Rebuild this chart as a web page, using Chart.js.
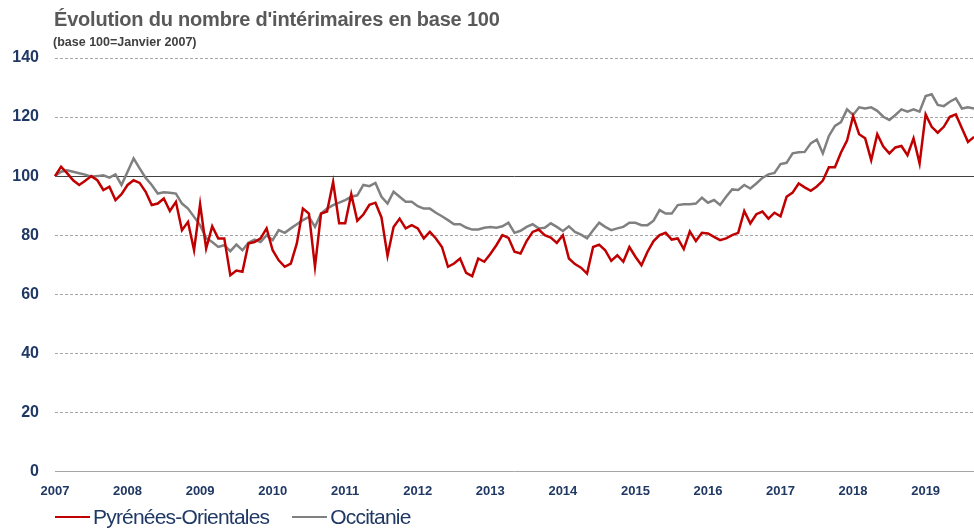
<!DOCTYPE html>
<html>
<head>
<meta charset="utf-8">
<script src="https://cdn.jsdelivr.net/npm/chart.js@4/dist/chart.umd.min.js"></script>
<style>
  body { margin: 0; background: #fff; }
  #wrap { position: relative; width: 974px; height: 532px; overflow: hidden; font-family: "Liberation Sans", Arial, sans-serif; }
  #title { position: absolute; left: 54px; top: 8px; font-size: 20px; font-weight: bold; color: #595959; letter-spacing: -0.2px; white-space: nowrap; }
  #subtitle { position: absolute; left: 53px; top: 35px; font-size: 12.5px; font-weight: bold; color: #404040; white-space: nowrap; }
  #legend { position: absolute; left: 55px; top: 505px; font-size: 21px; color: #1f3864; letter-spacing: -0.8px; white-space: nowrap; }
  #legend span.sw { display: inline-block; width: 35px; height: 2px; vertical-align: middle; margin-right: 3px; position: relative; top: -1px; }
  #legend span.item { margin-right: 23px; }
  canvas { position: absolute; left: 0; top: 0; }
</style>
</head>
<body>
<div id="wrap">
  <canvas id="chart" width="974" height="532"></canvas>
  <div id="title">Évolution du nombre d'intérimaires en base 100</div>
  <div id="subtitle">(base 100=Janvier 2007)</div>
  <div id="legend"></div>
</div>
<script>
const FIRST_YEAR = 2007

// indices mensuels, janvier 2007 = 100
const pyreneesOrientales = [
    100, 103.2, 101, 98.6, 97, 98.4, 100, 98.6, 95.3, 96.4, 91.9, 93.9,
    97, 98.6, 97.7, 94.7, 90.2, 90.7, 92.4, 88.2, 91.3, 81.7, 84.5, 74.9,
    90.5, 75.5, 83, 78.9, 78.9, 66.4, 68, 67.6, 77.2, 77.7, 78.9, 82.3,
    74.9, 71.5, 69.3, 70.4, 77.2, 89, 87.3, 69.3, 87.3, 88, 98, 84,
    84, 93.9, 84.9, 87, 90.3, 91, 86, 73, 82.8, 85.6, 82.3, 83.4,
    82.3, 78.9, 81.1, 78.9, 76, 69.3, 70.4, 72.1, 67.2, 66.1, 72.1, 71,
    73.6, 76.6, 80, 79.1, 74.4, 73.8, 78, 81.1, 81.9, 80, 79.2, 77.4,
    80, 72.1, 70.2, 69, 67, 76, 76.8, 74.9, 71.3, 73.2, 71, 76,
    72.7, 69.8, 74.4, 78, 80, 80.8, 78.5, 78.9, 75.3, 81.3, 78, 80.8,
    80.6, 79.4, 78.3, 78.9, 80, 80.8, 88.2, 84, 87.1, 88, 85.6, 87.6,
    86.4, 93, 94.4, 97.5, 96.2, 95, 96.5, 98.5, 103, 103, 108, 112,
    120.3, 114.2, 112.8, 105.4, 114.2, 110, 107.7, 109.7, 110.2, 107.1, 112.8, 104.3,
    120.9, 116.7, 114.7, 116.7, 120.1, 120.9, 116.2, 111.6, 113.3
];
const occitanie = [
    100, 101.5, 102, 101.5, 101, 100.5, 99.8, 100, 100.3, 99.5, 100.6, 97,
    101.5, 106, 102.6, 99.4, 97, 94.1, 94.5, 94.4, 94.1, 90.7, 89, 86.2,
    83.4, 79, 77.7, 76, 76.6, 74.6, 76.8, 74.9, 77.4, 78.5, 77.7, 80,
    78.3, 81.7, 80.8, 82.3, 83.7, 85.1, 86.2, 82.8, 87.3, 89, 90.2, 91,
    91.9, 93, 93.5, 97, 96.6, 97.7, 93, 90.7, 94.7, 93, 91.3, 91.3,
    89.8, 89, 89, 87.6, 86.4, 85.1, 83.7, 83.7, 82.6, 81.9, 81.9, 82.5,
    82.8, 82.5, 83, 84.2, 80.8, 81.5, 82.8, 83.7, 82.3, 82.5, 84, 82.8,
    81.4, 83, 81.1, 80.2, 78.9, 81.7, 84.2, 82.8, 81.7, 82.3, 82.8, 84.2,
    84.2, 83.4, 83.4, 84.9, 88.5, 87.3, 87.3, 90.2, 90.5, 90.5, 90.7, 92.7,
    91, 91.9, 90.2, 93, 95.5, 95.3, 97, 95.8, 97.5, 99.4, 100.6, 101.1,
    104.1, 104.5, 107.7, 108.1, 108.2, 111.1, 112.4, 107.7, 113.6, 117, 118.3, 122.6,
    120.7, 123.3, 122.9, 123.3, 122.1, 120.1, 119, 120.7, 122.6, 121.8, 122.6, 121.8,
    127.1, 127.7, 124.1, 123.7, 125.2, 126.3, 122.9, 123.3, 122.9
];
const seriesNames = ['Pyrénées-Orientales', 'Occitanie'];
const seriesColors = ['#c00000', '#808080'];

// une étiquette par mois, seule l'année de janvier est affichée
const months = pyreneesOrientales.map((v, i) => (i % 12 == 0) ? String(FIRST_YEAR + i / 12) : '');

// Legend in HTML, under the chart
const legend = document.getElementById('legend');
legend.innerHTML = seriesNames.map((name, i) =>
    `<span class="item"><span class="sw" style="background:${seriesColors[i]}"></span>${name}</span>`).join('');

const ctx = document.getElementById('chart').getContext('2d');
new Chart(ctx, {
    type: 'line',
    data: {
        labels: months,
        datasets: [pyreneesOrientales, occitanie].map((data, i) => ({
            label: seriesNames[i],
            data: data,
            borderColor: seriesColors[i],
            backgroundColor: seriesColors[i],
            borderWidth: 2.5,
            pointRadius: 0,
            tension: 0
        }))
    },
    options: {
        responsive: false,
        animation: false,
        layout: { padding: { left: 10, right: 0, top: 58, bottom: 33 } },
        plugins: {
            legend: { display: false },
            tooltip: { enabled: false }
        },
        scales: {
            x: {
                offset: false,
                // invisible tick marks only push the labels down
                grid: { drawOnChartArea: false, drawTicks: true, tickLength: 12, color: 'rgba(0,0,0,0)' },
                border: { display: false },
                ticks: {
                    autoSkip: false,
                    maxRotation: 0,
                    padding: 0,
                    color: '#1f3864',
                    font: { family: 'Liberation Sans', size: 13, weight: 'bold' },
                    callback: (val, i) => months[i]
                }
            },
            y: {
                min: 0,
                max: 140,
                afterFit: (scale) => { scale.width = 45 },
                grid: {
                    drawTicks: false,
                    lineWidth: 1,
                    color: (c) => c.tick.value == 100 ? '#404040' : '#a6a6a6'
                },
                border: {
                    display: false,
                    dash: (c) => (c.tick.value == 100 || c.tick.value == 0) ? [] : [3, 2]
                },
                ticks: {
                    stepSize: 20,
                    padding: 16,
                    color: '#1f3864',
                    font: { family: 'Liberation Sans', size: 16, weight: 'bold' }
                }
            }
        }
    }
});
</script>
</body>
</html>
